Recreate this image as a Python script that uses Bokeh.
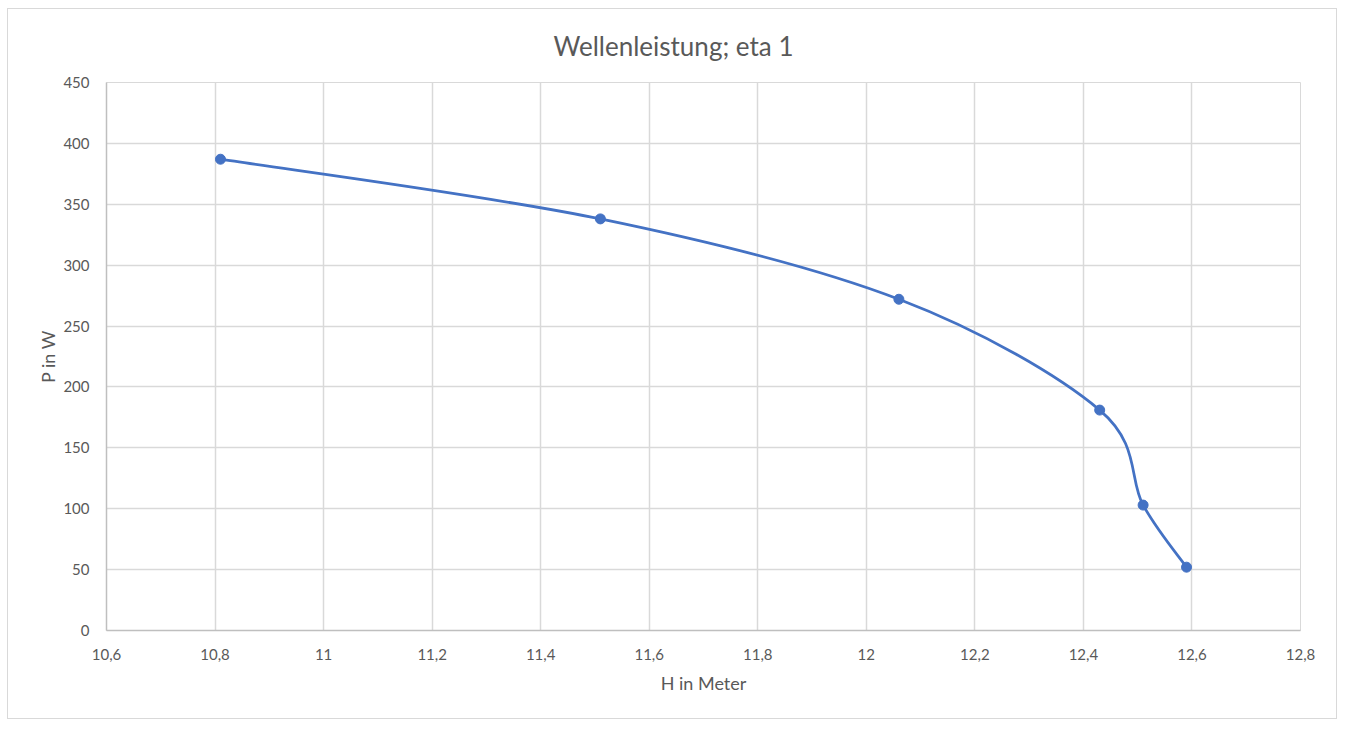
from bokeh.plotting import figure
from bokeh.models import FixedTicker, CustomJSTickFormatter, Range1d
from bokeh.embed import file_html
from bokeh.resources import INLINE

# Data
H = [10.81, 11.51, 12.06, 12.43, 12.51, 12.59]   # H in Meter
P = [387, 338, 272, 181, 103, 52]                 # P in W

X_TICKS = [10.6, 10.8, 11, 11.2, 11.4, 11.6, 11.8, 12, 12.2, 12.4, 12.6, 12.8]
Y_TICKS = [0, 50, 100, 150, 200, 250, 300, 350, 400, 450]

TITLE = "Wellenleistung; eta 1"
X_LABEL = "H in Meter"
Y_LABEL = "P in W"

BLUE = "#4472C4"
GREY_TXT = "#595959"
GRID = "#d9d9d9"
FONT = "Lato"

p = figure(width=1330, height=711, output_backend="svg", toolbar_location=None,
           x_range=Range1d(10.6, 12.8), y_range=Range1d(0, 450),
           min_border_left=98, min_border_right=38, min_border_top=73, min_border_bottom=90)
p.styles = {"border": "1px solid #d9d9d9", "margin-left": "7px", "margin-top": "8px"}

p.title.text = TITLE
p.title.align = "left"
p.title.vertical_align = "top"
p.title.offset = 447
p.title.standoff = 38
p.title.text_font = FONT
p.title.text_font_size = "26px"
p.title.text_font_style = "normal"
p.title.text_color = GREY_TXT

p.outline_line_color = GRID
p.background_fill_color = "white"
p.border_fill_color = "white"

# Smoothed line (Catmull-Rom style Bezier like Excel's smoothed line)
n = len(H)
x0, y0, x1, y1, cx0, cy0, cx1, cy1 = [], [], [], [], [], [], [], []
for i in range(n - 1):
    im1 = max(i - 1, 0)
    ip2 = min(i + 2, n - 1)
    x0.append(H[i]); y0.append(P[i])
    x1.append(H[i + 1]); y1.append(P[i + 1])
    cx0.append(H[i] + (H[i + 1] - H[im1]) / 6.0)
    cy0.append(P[i] + (P[i + 1] - P[im1]) / 6.0)
    cx1.append(H[i + 1] - (H[ip2] - H[i]) / 6.0)
    cy1.append(P[i + 1] - (P[ip2] - P[i]) / 6.0)
p.bezier(x0=x0, y0=y0, x1=x1, y1=y1, cx0=cx0, cy0=cy0, cx1=cx1, cy1=cy1,
         line_color=BLUE, line_width=2.75)
p.scatter(H, P, size=10, fill_color=BLUE, line_color=BLUE)

fmt = CustomJSTickFormatter(code="return String(Math.round(tick*10)/10).replace('.', ',');")

xa = p.xaxis[0]
xa.ticker = FixedTicker(ticks=X_TICKS)
xa.formatter = fmt
ya = p.yaxis[0]
ya.ticker = FixedTicker(ticks=Y_TICKS)

for ax in (xa, ya):
    ax.major_tick_line_color = None
    ax.minor_tick_line_color = None
    ax.axis_line_color = "#bfbfbf"
    ax.axis_line_width = 1.5
    ax.major_label_text_font = FONT
    ax.major_label_text_font_size = "15px"
    ax.major_label_text_color = GREY_TXT
    ax.axis_label_text_font = FONT
    ax.axis_label_text_font_size = "18px"
    ax.axis_label_text_font_style = "normal"
    ax.axis_label_text_color = GREY_TXT

xa.axis_label = X_LABEL
ya.axis_label = Y_LABEL
xa.major_label_standoff = 12
xa.axis_label_standoff = 9
ya.major_label_standoff = 11
ya.axis_label_standoff = 1

for g in (p.xgrid[0], p.ygrid[0]):
    g.grid_line_color = GRID
    g.grid_line_width = 1.5

open("out.html", "w").write(file_html(p, INLINE))
